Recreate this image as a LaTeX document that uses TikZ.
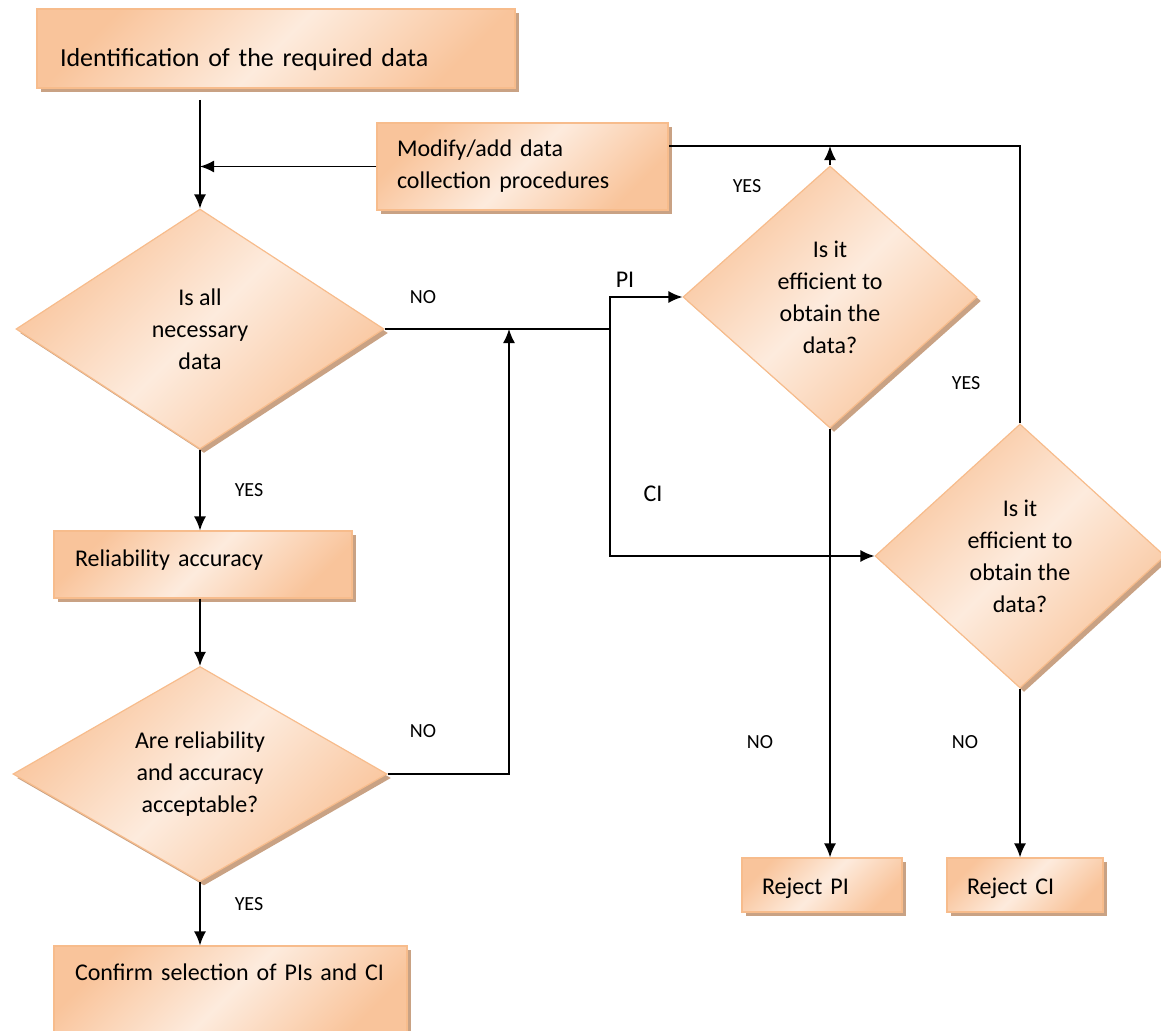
\documentclass[tikz,border=0pt]{standalone}
\usepackage{fontspec}
\setmainfont{Carlito}
\usetikzlibrary{shapes.geometric,shadows,arrows.meta}
\definecolor{peach}{HTML}{F9C49B}
\definecolor{peachpale}{HTML}{FDEBDD}
\definecolor{peachedge}{HTML}{F7BC8C}
\definecolor{tan}{HTML}{C9A284}

\begin{document}
\begin{tikzpicture}[
  x = 1pt, y = -1pt,
  every node/.style = {font = \fontsize{24}{32}\selectfont},
  fancy/.style = {draw = peachedge, line width = 1.2pt,
    top color = peach, bottom color = peach, middle color = peachpale,
    shading angle = 45,
    drop shadow = {shadow xshift = 4pt, shadow yshift = -4pt, fill = tan, opacity = 1}},
  box/.style = {fancy, rectangle, align = left},
  decision/.style = {fancy, diamond, inner sep = 0pt, align = center},
  tag/.style = {font = \fontsize{20}{24}\selectfont},
  line/.style = {line width = 1.6pt},
  arr/.style = {line, -{Latex[length = 14pt, width = 12pt]}}
  ]
  \useasboundingbox (0,0) rectangle (1161,1030);

  % boxes
  \node[box, minimum width = 478pt, minimum height = 79pt, inner xsep = 23pt,
        text width = 432pt, text height = 42pt, text depth = 5pt,
        font = \fontsize{26}{32}\selectfont]
    (ident) at (276,48.5) {Identification of the required data};
  \node[box, minimum width = 291pt, minimum height = 87pt, inner xsep = 20pt,
        text width = 251pt]
    (modify) at (522.5,166.5) {Modify/add data\\collection procedures};
  \node[box, minimum width = 298pt, minimum height = 67pt, inner xsep = 21pt,
        text width = 256pt, text height = 18pt, text depth = 15pt]
    (rel) at (203,564.5) {Reliability accuracy};
  \node[box, minimum width = 353pt, minimum height = 94pt, inner xsep = 21pt,
        text width = 311pt, text height = 18pt, text depth = 44pt]
    (confirm) at (230.5,993) {Confirm selection of PIs and CI};
  \node[box, minimum width = 160pt, minimum height = 54pt, inner xsep = 20pt,
        text width = 120pt, text height = 22pt, text depth = 4pt]
    (rejpi) at (822,885) {Reject PI};
  \node[box, minimum width = 156pt, minimum height = 54pt, inner xsep = 20pt,
        text width = 116pt, text height = 22pt, text depth = 4pt]
    (rejci) at (1025,885) {Reject CI};

  % decisions
  \node[decision, minimum width = 368pt, minimum height = 240pt, aspect = 1.53]
    (d1) at (200,329) {Is all\\necessary\\data};
  \node[decision, minimum width = 374pt, minimum height = 215pt, aspect = 1.74]
    (d2) at (200,774) {Are reliability\\and accuracy\\acceptable?};
  \node[decision, minimum width = 294pt, minimum height = 262pt, aspect = 1.12]
    (pi) at (830,297) {Is it\\efficient to\\obtain the\\data?};
  \node[decision, minimum width = 290pt, minimum height = 264pt, aspect = 1.1]
    (ci) at (1020,556) {Is it\\efficient to\\obtain the\\data?};

  % labels
  \node[tag] (no1) at (423,297) {NO};
  \node[tag] (no2) at (423,731) {NO};
  \node[tag] (yes1) at (249,490) {YES};
  \node[tag] (yes2) at (249,904) {YES};
  \node[tag] (yes3) at (747,186) {YES};
  \node[tag] (yes4) at (966,383) {YES};
  \node[tag] (no3) at (760,742) {NO};
  \node[tag] (no4) at (965,742) {NO};
  \node (pilab) at (625,280) {PI};
  \node (cilab) at (653,494) {CI};

  % connectors
  \coordinate (start) at (200,100);
  \coordinate (top) at (0,146);
  \coordinate (split) at (610,0);
  \coordinate (merge) at (509,0);

  \draw[arr] (start) -- (d1.north);
  \draw[arr] (modify.west) -- (modify.west -| d1.north);
  \draw[arr] (d1.south) -- (d1.south |- rel.north);
  \draw[arr] (d2.north |- rel.south) -- (d2.north);
  \draw[arr] (d2.south) -- (d2.south |- confirm.north);
  \draw[line] (d1.east) -- (d1.east -| split);
  \draw[arr] (d1.east -| split) |- (pi.west);
  \draw[arr] (d1.east -| split) |- (ci.west);
  \draw[arr] (d2.east) -| (d1.east -| merge);
  \draw[arr] (pi.north) -- (pi.north |- top);
  \draw[line] (ci.north) |- (modify.east |- top);
  \draw[arr] (pi.south) -- (pi.south |- rejpi.north);
  \draw[arr] (ci.south) -- (ci.south |- rejci.north);
\end{tikzpicture}
\end{document}
